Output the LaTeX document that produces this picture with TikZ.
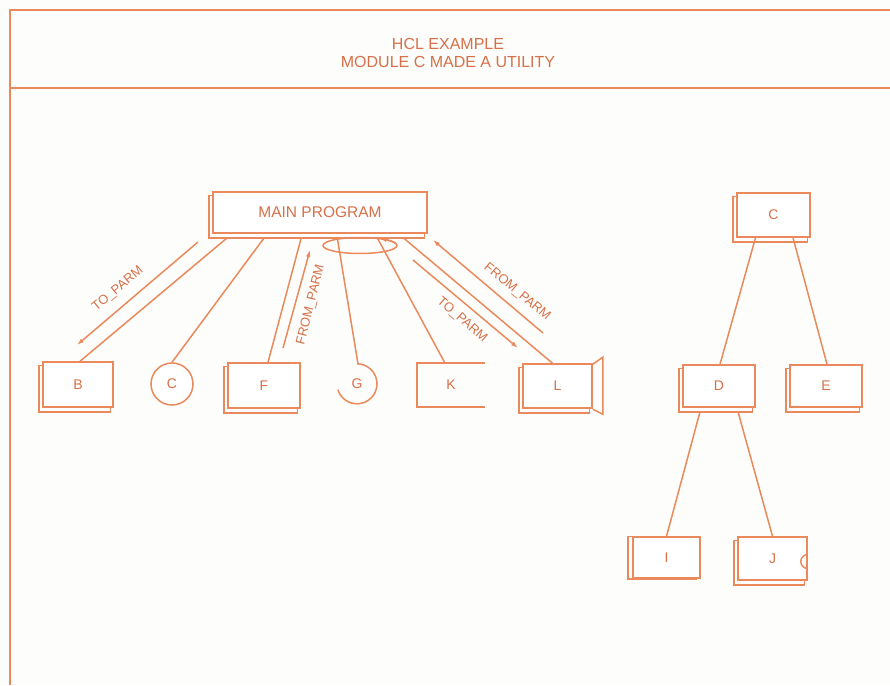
\documentclass[tikz,border=0pt]{standalone}
\usepackage{fontspec}
\setmainfont{Liberation Sans}
\usetikzlibrary{calc,arrows.meta}
\definecolor{ink}{RGB}{234,138,92}
\definecolor{txt}{RGB}{214,112,72}
\definecolor{paper}{RGB}{253,253,251}
\pgfdeclarelayer{back}
\pgfsetlayers{back,main}
% drop shadow of a box: node name, x shift, y shift (y grows downward)
\newcommand{\slabunder}[3]{%
  \begin{pgfonlayer}{back}
    \draw[line, fill=white] ($(#1.north west)+(#2,#3)$) rectangle ($(#1.south east)+(#2,#3)$);
  \end{pgfonlayer}}
\begin{document}
\begin{tikzpicture}[x=1pt,y=-1pt,
  every node/.style={font=\fontsize{14}{16}\selectfont, text=txt, inner sep=0pt},
  line/.style={draw=ink, line width=1.5pt},
  flow/.style={line, -{Latex[length=7pt,width=4.5pt]}},
  slab/.style={line, fill=white, rectangle},
  parm/.style={font=\fontsize{13}{15}\selectfont},
]
\useasboundingbox (0,0) rectangle (890,685);
\begin{pgfonlayer}{back}
  \fill[paper] (0,0) rectangle (890,685);
\end{pgfonlayer}

% frame and title strip
\draw[line] (10,685) -- (10,10) -- (890,10);
\draw[line] (10,88) -- (890,88);
\node[align=center, font=\fontsize{16}{18}\selectfont] (title) at (448,53)
  {HCL EXAMPLE\\MODULE C MADE A UTILITY};

% main program and its modules
\node[slab, minimum width=214pt, minimum height=41pt,
  font=\fontsize{15.5}{17}\selectfont] (main) at (320,212.5) {MAIN PROGRAM};
\slabunder{main}{-3.5}{4}
\node[slab, minimum width=70pt, minimum height=45pt] (B) at (78,384.5) {B};
\slabunder{B}{-3.5}{4}
\node[line, circle, fill=white, minimum size=42pt] (Cc) at (172,384) {C};
\node[slab, minimum width=72pt, minimum height=45pt] (F) at (264,385.5) {F};
\slabunder{F}{-3.5}{4}
\node[circle, minimum size=40pt] (G) at (357,384) {G};
\draw[line] (G.north) arc[start angle=-90, end angle=163, radius=20];
\node[minimum width=68pt, minimum height=44pt] (K) at (451,385) {K};
\draw[line] (K.north east) -- (K.north west) -- (K.south west) -- (K.south east);
\node[slab, minimum width=69pt, minimum height=44pt] (L) at (557.5,386) {L};
\slabunder{L}{-3.5}{4}
\draw[line] ($(L.north east)+(0,1)$) -- ++(10,-7) -- ++(0,57) -- ++(-10,-5);

% recursion loop under the main program
\coordinate (loop) at (360,245.5);
\begin{pgfonlayer}{back}
  \draw[line] (loop) ellipse[x radius=37, y radius=8];
\end{pgfonlayer}
\draw[line, -{Latex[length=5pt,width=5pt]}] ($(loop)+(35.7,-2.1)$)
  arc[start angle=-15, end angle=-55, x radius=37, y radius=8];

% calls from the main program
\draw[line] ($(main.south west)+(15,4)$)  -- ($(B.north)+(2,0)$);
\draw[line] ($(main.south west)+(52,4)$)  -- (Cc.north);
\draw[line] ($(main.south west)+(89,4)$)  -- ($(F.north)+(4,0)$);
\draw[line] ($(main.south west)+(125,4)$) -- ($(G.north)+(1,0)$);
\draw[line] ($(main.south west)+(165,4)$) -- ($(K.north west)+(28,0)$);
\draw[line] ($(main.south west)+(191,4)$) -- ($(L.north)+(-5,0)$);

% parameter flows
\coordinate (tpBs) at (198,242);  \coordinate (tpBe) at (77,345);
\coordinate (fpFs) at (283,348);  \coordinate (fpFe) at (310,250);
\coordinate (tpLs) at (413,260);  \coordinate (tpLe) at (518,348);
\coordinate (fpLs) at (543,333);  \coordinate (fpLe) at (433,240);
\draw[flow] (tpBs) -- (tpBe);
\draw[flow] (fpFs) -- (fpFe);
\draw[flow] (tpLs) -- (tpLe);
\draw[flow] (fpLs) -- (fpLe);
\node[parm, rotate=40]  (tpBl) at (118,289) {TO\_PARM};
\node[parm, rotate=76]  (fpFl) at (311,305) {FROM\_PARM};
\node[parm, rotate=-41] (tpLl) at (462,320) {TO\_PARM};
\node[parm, rotate=-40] (fpLl) at (517,292) {FROM\_PARM};

% utility module C and its subtree
\node[slab, minimum width=73pt, minimum height=44pt] (Cu) at (773.5,215) {C};
\slabunder{Cu}{-3.5}{4}
\node[slab, minimum width=72pt, minimum height=42pt] (D) at (719,386) {D};
\slabunder{D}{-3.5}{4}
\node[slab, minimum width=72pt, minimum height=42pt] (E) at (826,386) {E};
\slabunder{E}{-3.5}{4}
\node[slab, minimum width=67pt, minimum height=41pt] (I) at (666.5,557.5) {I};
\slabunder{I}{-4.5}{0}
\node[slab, minimum width=69pt, minimum height=43pt] (J) at (772.5,558.5) {J};
\slabunder{J}{-3.5}{4}
\draw[line] ($(J.east)+(0,-4)$) arc[start angle=-90, end angle=-270, radius=7];

\begin{pgfonlayer}{back}
  \draw[line] ($(Cu.south)+(-18,0)$) -- ($(D.north)+(1,0)$);
  \draw[line] ($(Cu.south)+(19.5,0)$) -- ($(E.north)+(1,0)$);
  \draw[line] ($(D.south)+(-19,4)$) -- (I.north);
  \draw[line] ($(D.south)+(19,4)$) -- (J.north);
\end{pgfonlayer}
\end{tikzpicture}
\end{document}
